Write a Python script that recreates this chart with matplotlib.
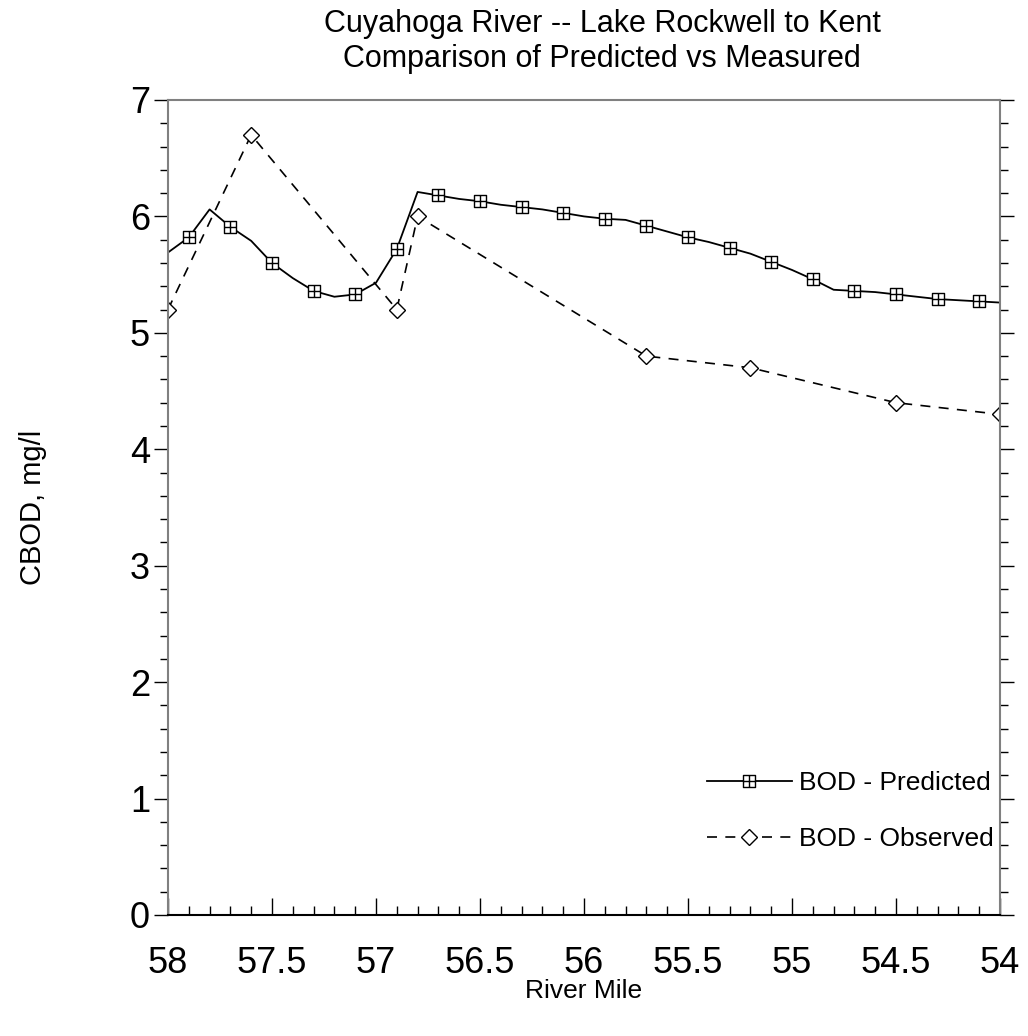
import matplotlib
matplotlib.use('Agg')
import matplotlib.pyplot as plt
from matplotlib.path import Path
from matplotlib.ticker import MultipleLocator

plt.rcParams['font.family'] = ['Liberation Sans', 'DejaVu Sans']

# Data
pred_mile = [58.0, 57.9, 57.8, 57.7, 57.6, 57.5, 57.4, 57.3, 57.2, 57.1,
             57.0, 56.9, 56.8, 56.7, 56.6, 56.5, 56.4, 56.3, 56.2, 56.1,
             56.0, 55.9, 55.8, 55.7, 55.6, 55.5, 55.4, 55.3, 55.2, 55.1,
             55.0, 54.9, 54.8, 54.7, 54.6, 54.5, 54.4, 54.3, 54.2, 54.1, 54.0]
pred_bod = [5.69, 5.82, 6.06, 5.91, 5.79, 5.60, 5.47, 5.36, 5.31, 5.33,
            5.43, 5.72, 6.21, 6.18, 6.15, 6.13, 6.10, 6.08, 6.06, 6.03,
            6.00, 5.98, 5.97, 5.92, 5.87, 5.82, 5.78, 5.73, 5.68, 5.61,
            5.54, 5.46, 5.37, 5.36, 5.35, 5.33, 5.31, 5.29, 5.28, 5.27, 5.26]

obs_mile = [58.0, 57.6, 56.9, 56.8, 55.7, 55.2, 54.5, 54.0]
obs_bod = [5.2, 6.7, 5.2, 6.0, 4.8, 4.7, 4.4, 4.3]

# square with a cross inside
box_cross = Path(
    [(-1, -1), (1, -1), (1, 1), (-1, 1), (-1, -1),
     (0, -1), (0, 1), (-1, 0), (1, 0)],
    [Path.MOVETO, Path.LINETO, Path.LINETO, Path.LINETO, Path.CLOSEPOLY,
     Path.MOVETO, Path.LINETO, Path.MOVETO, Path.LINETO])

fig = plt.figure(figsize=(10.28, 10.36), dpi=100)
ax = fig.add_axes([0.1634, 0.1168, 0.8094, 0.7867])

ax.plot(pred_mile, pred_bod, color='black', lw=1.3,
        marker=box_cross, markevery=(1, 2), ms=8, mfc='white', mec='black',
        mew=1.0, label='BOD - Predicted')
ax.plot(obs_mile, obs_bod, color='black', lw=1.2, dashes=(6, 5),
        marker='D', ms=8.5, mfc='white', mec='black', mew=1.0,
        label='BOD - Observed')

ax.set_xlim(58, 54)
ax.set_ylim(0, 7)

ax.xaxis.set_major_locator(MultipleLocator(0.5))
ax.xaxis.set_minor_locator(MultipleLocator(0.1))
ax.yaxis.set_major_locator(MultipleLocator(1))
ax.yaxis.set_minor_locator(MultipleLocator(0.2))
ax.xaxis.set_major_formatter(plt.FuncFormatter(lambda v, p: f'{v:g}'))

ax.tick_params(axis='x', which='major', direction='in', length=12, width=1,
               labelsize=26, pad=22, top=False)
ax.tick_params(axis='x', which='minor', direction='in', length=6.5, width=1,
               top=False)
ax.tick_params(axis='y', which='major', direction='out', length=10, width=1,
               labelsize=26, pad=3, right=True)
ax.tick_params(axis='y', which='minor', direction='out', length=5.5, width=1,
               right=True)

for s in ['left', 'top', 'right']:
    ax.spines[s].set_color('#808080')
    ax.spines[s].set_linewidth(1.5)
ax.spines['bottom'].set_linewidth(1.5)

ax.set_xlabel('River Mile', fontsize=19)
ax.xaxis.set_label_coords(0.5, -0.079)
ax.set_ylabel('CBOD, mg/l', fontsize=21)
ax.yaxis.set_label_coords(-0.145, 0.5)
ax.set_title('Cuyahoga River -- Lake Rockwell to Kent\nComparison of Predicted vs Measured',
             fontsize=22, pad=24, linespacing=1.2, x=0.522)

ax.legend(loc='lower right', bbox_to_anchor=(1.012, 0.059), frameon=False,
          fontsize=19, handlelength=3.2, handletextpad=0.3, labelspacing=1.2,
          numpoints=1, borderaxespad=0.2)

fig.savefig('out.png', dpi=100)
